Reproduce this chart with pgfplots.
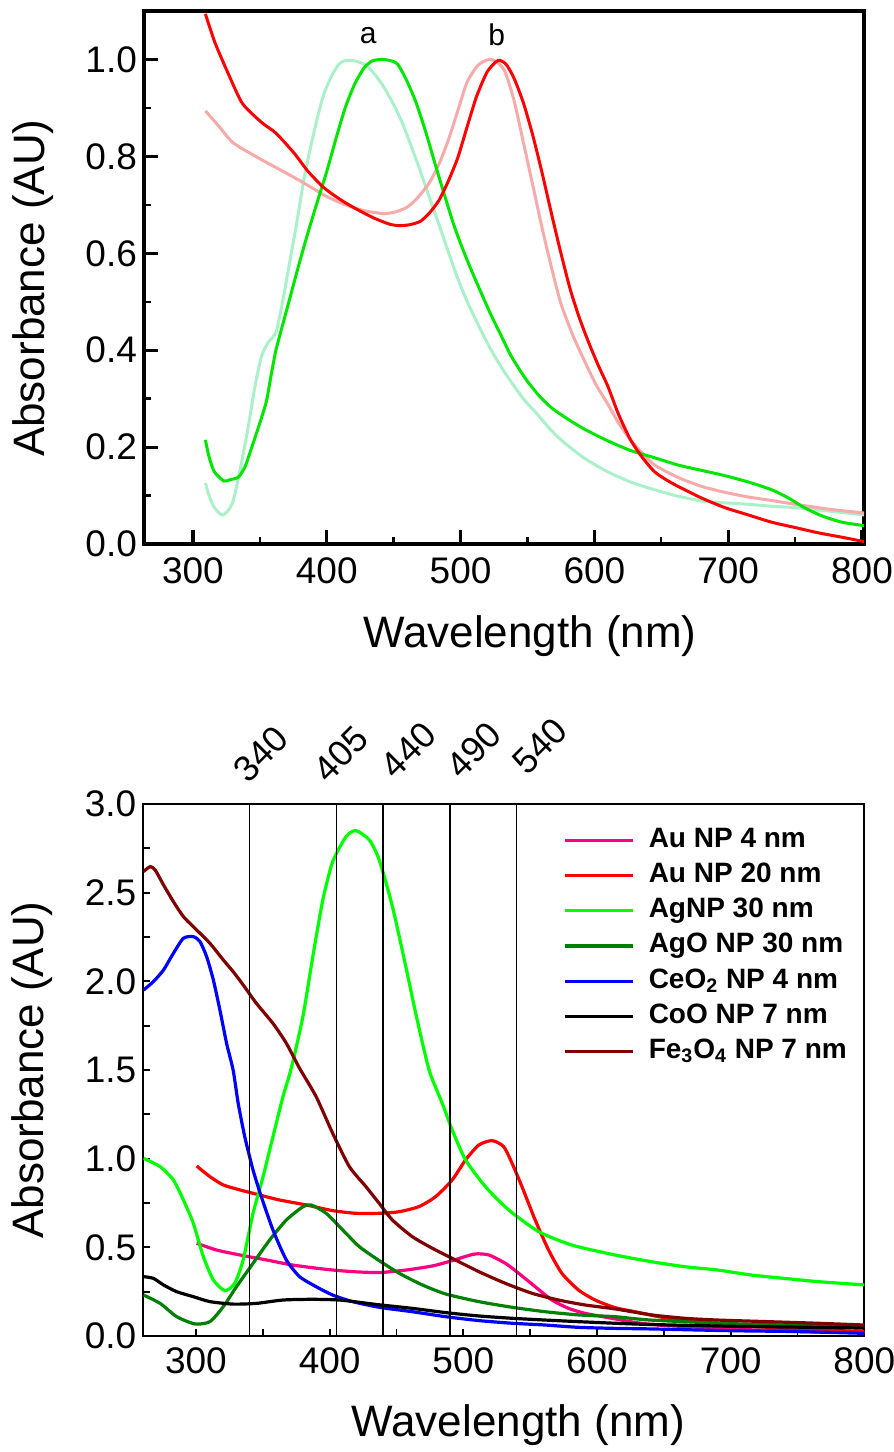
\documentclass[border=0pt]{standalone}
\usepackage{fontspec}
\setmainfont{Liberation Sans}
\usepackage{pgfplots}
\usepackage{pgfplotstable}
\pgfplotsset{compat=1.18}
\definecolor{cAuA}{RGB}{255,0,128}
\definecolor{cAuB}{RGB}{255,0,0}
\definecolor{cAg}{RGB}{0,255,0}
\definecolor{cAgO}{RGB}{0,128,0}
\definecolor{cCe}{RGB}{0,0,255}
\definecolor{cCo}{RGB}{0,0,0}
\definecolor{cFe}{RGB}{128,0,0}
\definecolor{tRed}{RGB}{255,0,0}
\definecolor{tPink}{RGB}{246,170,170}
\definecolor{tGreen}{RGB}{0,230,0}
\definecolor{tMint}{RGB}{170,240,200}

% ---------- top panel ----------
\pgfplotstableread{
x y
309.3 1.094
316.4 1.035
326.8 0.968
337.0 0.909
351.3 0.870
362.0 0.848
375.8 0.806
386.0 0.769
398.0 0.735
410.6 0.710
423.0 0.690
435.0 0.673
447.0 0.660
454.5 0.657
462.0 0.659
470.0 0.666
477.0 0.684
484.0 0.710
491.0 0.750
498.0 0.798
505.0 0.862
512.0 0.924
520.0 0.975
528.0 0.998
534.0 0.990
540.0 0.961
547.0 0.910
554.0 0.843
561.0 0.765
568.0 0.681
575.0 0.600
582.0 0.525
589.0 0.465
596.0 0.414
603.0 0.368
610.0 0.326
618.0 0.268
627.0 0.215
636.0 0.178
645.0 0.149
654.0 0.132
662.5 0.119
680.0 0.095
697.6 0.075
715.0 0.060
732.5 0.045
750.0 0.034
767.5 0.023
785.0 0.014
801.5 0.005
}\topRed
\pgfplotstableread{
x y
309.3 0.894
320 0.860
330 0.828
348 0.798
360 0.780
372 0.762
386 0.740
400 0.717
414 0.700
428 0.688
442 0.682
451 0.685
460 0.695
468 0.715
477 0.747
484 0.785
491 0.835
498 0.895
505 0.954
513 0.988
521 1.000
527 0.995
533 0.976
540 0.915
547 0.828
554 0.740
561 0.651
568 0.570
575 0.496
584 0.430
592.6 0.378
601 0.330
610 0.289
618 0.250
627 0.215
636 0.187
645 0.163
662 0.138
680 0.119
697 0.107
715 0.097
732 0.090
750 0.082
775 0.072
801.5 0.064
}\topPink
\pgfplotstableread{
x y
309.3 0.215
312 0.180
316 0.149
323 0.130
328 0.133
334 0.138
339 0.160
344 0.200
350 0.250
355 0.296
358.5 0.350
362 0.400
367 0.452
372 0.503
379 0.575
386 0.643
393 0.707
400 0.769
407 0.838
414 0.902
421 0.950
428 0.983
434 0.997
440.5 1.000
447 0.998
453 0.990
460 0.955
467 0.909
474 0.850
481 0.784
488 0.720
495 0.658
501.7 0.608
508.5 0.562
515.6 0.517
522.7 0.473
530 0.432
537 0.392
544 0.360
550.7 0.333
559 0.305
568 0.281
580 0.258
592.6 0.237
610 0.213
627 0.193
645 0.178
662.5 0.163
680 0.152
697.6 0.141
715 0.128
732.5 0.112
745 0.095
757 0.075
770 0.058
785 0.045
801.5 0.038
}\topGreen
\pgfplotstableread{
x y
309.3 0.126
312 0.100
316 0.075
321.6 0.060
326 0.068
330 0.089
335 0.150
341 0.237
346 0.320
351 0.385
356 0.415
362 0.437
367 0.500
372 0.577
378 0.670
383 0.754
388 0.820
393 0.880
398 0.930
404 0.968
409 0.990
414 0.998
421 0.997
428 0.990
435 0.972
442 0.946
449 0.912
456 0.872
463 0.822
470 0.769
477 0.713
484 0.658
491 0.602
498 0.547
505 0.500
512 0.459
519 0.420
526 0.385
533 0.354
540 0.326
548 0.296
557.6 0.267
566 0.240
575 0.215
592 0.178
610 0.149
627 0.128
645 0.112
662 0.099
680 0.089
697 0.085
715 0.082
732 0.078
750 0.075
775 0.068
801.5 0.060
}\topMint

% ---------- bottom panel ----------
\pgfplotstableread{
x y
300.5 0.523
315.4 0.485
332.8 0.457
352.7 0.429
372.5 0.400
397.4 0.376
417.2 0.363
437.1 0.358
457 0.372
476.8 0.395
491.7 0.425
500 0.445
509.1 0.463
519.1 0.457
531.5 0.410
541.4 0.354
553.8 0.278
566.3 0.203
578.7 0.156
591.1 0.128
611 0.100
630 0.075
650 0.060
700 0.040
750 0.025
800 0.020
}\AuFour
\pgfplotstableread{
x y
300.5 0.959
310.4 0.899
320.4 0.852
332.8 0.824
347.7 0.795
362.6 0.767
382.5 0.739
402.3 0.707
419.7 0.692
437.1 0.692
452 0.701
466.9 0.730
479.3 0.786
491.7 0.880
501.7 0.993
511.6 1.077
521.6 1.102
530.2 1.068
536.5 0.974
543.9 0.842
553.8 0.654
563.8 0.485
573.7 0.354
586.1 0.260
598.6 0.203
613.5 0.160
628.4 0.137
653.2 0.100
690.5 0.071
740.2 0.043
800 0.025
}\AuTwenty
\pgfplotstableread{
x y
260.8 1.002
273.2 0.955
283.1 0.880
290.6 0.767
298 0.636
305.5 0.448
313 0.316
321.6 0.256
329 0.297
335.3 0.429
342.7 0.692
350.2 0.899
357.6 1.124
365.1 1.350
371.3 1.510
380 1.801
387.4 2.139
394.9 2.459
402.3 2.675
412.3 2.816
419.7 2.850
429.7 2.797
437.1 2.685
447 2.421
457 2.083
464.4 1.820
474.4 1.500
484.3 1.312
491.7 1.162
501.7 0.993
516.6 0.842
534 0.711
556.3 0.589
581.2 0.513
613.5 0.457
640.8 0.419
665.6 0.391
690.5 0.372
715.3 0.344
740.2 0.325
765 0.307
800 0.288
}\AgNP
\pgfplotstableread{
x y
260.8 0.231
273.2 0.184
285.6 0.109
299.3 0.068
310.4 0.081
320.4 0.165
330.3 0.278
342.7 0.410
355.1 0.541
367.6 0.654
380 0.729
386.2 0.739
397.4 0.692
409.8 0.598
422.2 0.504
437.1 0.425
452 0.354
469.4 0.288
486.8 0.237
511.6 0.194
536.5 0.162
561.3 0.137
586.1 0.119
613.5 0.109
640 0.090
700 0.070
750 0.060
800 0.050
}\AgO
\pgfplotstableread{
x y
260.8 1.951
268.2 1.999
275.7 2.064
283.1 2.158
290.6 2.243
298 2.252
303 2.224
308 2.139
313 2.008
317.9 1.839
322.9 1.651
327.8 1.500
331.6 1.312
336.5 1.124
342.7 0.936
348.9 0.786
357.6 0.598
367.6 0.429
377.5 0.335
389.9 0.278
402.3 0.231
417.2 0.194
437.1 0.162
461.9 0.137
486.8 0.109
511.6 0.087
536.5 0.072
561.3 0.062
586.1 0.049
613.5 0.043
640 0.040
700 0.030
750 0.025
800 0.015
}\CeO
\pgfplotstableread{
x y
260.8 0.335
268.2 0.325
275.7 0.288
285.6 0.250
298 0.222
310.4 0.194
327.8 0.180
345.2 0.184
365.1 0.203
387.4 0.207
407.3 0.203
422.2 0.190
437.1 0.176
461.9 0.156
486.8 0.132
511.6 0.113
536.5 0.100
561.3 0.090
586.1 0.081
613.5 0.072
640 0.065
700 0.055
750 0.050
800 0.045
}\CoO
\pgfplotstableread{
x y
260.8 2.619
265.7 2.647
269.5 2.628
275.7 2.544
283.1 2.450
290.6 2.365
300.5 2.290
310.4 2.215
320.4 2.121
327.8 2.055
335.3 1.980
345.2 1.876
357.6 1.763
367.6 1.651
377.5 1.510
389.9 1.350
402.3 1.143
414.8 0.955
427.2 0.842
437.1 0.748
447 0.654
461.9 0.560
476.8 0.495
491.7 0.438
511.6 0.363
531.5 0.297
551.4 0.241
571.2 0.203
591.1 0.175
613.5 0.153
640.8 0.119
665.6 0.100
690.5 0.090
727.7 0.081
765 0.072
800 0.062
}\FeO

\pgfplotsset{
  common/.style={
    scale only axis,
    anchor=south west,
    tick align=inside,
    xtick pos=bottom, ytick pos=left,
    /pgf/number format/assume math mode=true,
    tick label style={font=\fontsize{18.5}{20}\selectfont, black},
    label style={font=\fontsize{22}{24}\selectfont},
    yticklabel style={/pgf/number format/fixed, /pgf/number format/fixed zerofill, /pgf/number format/precision=1},
    xticklabel style={/pgf/number format/fixed, /pgf/number format/precision=0},
    xlabel={Wavelength (nm)},
    ylabel={Absorbance (AU)},
    clip=true,
  },
}

\begin{document}
\begin{tikzpicture}
\path[use as bounding box] (0pt,0pt) rectangle (447pt,-726pt);

\begin{axis}[common,
  at={(72pt,-272pt)},
  width=360pt, height=266.5pt,
  xmin=263.4, xmax=801.5, ymin=0, ymax=1.1,
  axis line style={line width=1.6pt},
  xtick={300,400,500,600,700,800}, minor xtick={350,450,550,650,750},
  ytick={0,0.2,0.4,0.6,0.8,1.0}, minor ytick={0.1,0.3,0.5,0.7,0.9},
  major tick style={line width=1.6pt, black}, minor tick style={line width=1.2pt, black},
  major tick length=7pt, minor tick length=3.5pt,
  xticklabel style={/tikz/yshift=-3.5pt},
  ylabel style={at={(axis description cs:-0.154,0.48)}, anchor=center},
  xlabel style={at={(axis description cs:0.536,-0.172)}, anchor=center},
  every axis plot/.append style={line width=1.5pt, smooth, tension=0.4},
]
\addplot[tMint] table {\topMint};
\addplot[tPink] table {\topPink};
\addplot[tGreen] table {\topGreen};
\addplot[tRed] table {\topRed};
\node[font=\fontsize{15}{16}\selectfont] at (axis cs:431,1.05) {a};
\node[font=\fontsize{15}{16}\selectfont] at (axis cs:527,1.05) {b};
\end{axis}

\begin{axis}[common,
  at={(71.65pt,-668pt)},
  width=360.5pt, height=266pt,
  xmin=260.6, xmax=800, ymin=0, ymax=3,
  axis line style={line width=0.9pt},
  xtick={300,400,500,600,700,800}, minor xtick={350,450,550,650,750},
  ytick={0,0.5,1.0,1.5,2.0,2.5,3.0}, minor ytick={0.25,0.75,1.25,1.75,2.25,2.75},
  major tick style={line width=0.9pt, black}, minor tick style={line width=0.9pt, black},
  major tick length=3.5pt, minor tick length=3.5pt,
  xticklabel style={/tikz/yshift=-2.5pt},
  ylabel style={at={(axis description cs:-0.154,0.5)}, anchor=center},
  xlabel style={at={(axis description cs:0.52,-0.168)}, anchor=center},
  every axis plot/.append style={line width=1.6pt, smooth, tension=0.4},
  legend cell align=left,
  legend image code/.code={\draw[#1] (0pt,0pt) -- (34pt,0pt);},
  legend style={at={(rel axis cs:0.574,0.972)}, anchor=north west, draw=none, fill=none,
    font=\fontsize{14}{16}\bfseries\selectfont, row sep=0.6pt, column sep=5pt,
    nodes={text height=10pt, text depth=3pt, inner sep=2pt}},
]
\addplot[cAuA] table {\AuFour};
\addlegendentry{Au NP 4 nm}
\addplot[cAuB] table {\AuTwenty};
\addlegendentry{Au NP 20 nm}
\addplot[cAg] table {\AgNP};
\addlegendentry{AgNP 30 nm}
\addplot[cAgO] table {\AgO};
\addlegendentry{AgO NP 30 nm}
\addplot[cCe] table {\CeO};
\addlegendentry{CeO\textsubscript{2} NP 4 nm}
\addplot[cCo] table {\CoO};
\addlegendentry{CoO NP 7 nm}
\addplot[cFe] table {\FeO};
\addlegendentry{Fe\textsubscript{3}O\textsubscript{4} NP 7 nm}
\foreach \v in {340,405,440,490,540}{
  \edef\temp{\noexpand\draw[line width=0.7pt] (axis cs:\v,0) -- (axis cs:\v,3);}\temp
}
\end{axis}

\begin{axis}[
  scale only axis, anchor=south west,
  at={(71.65pt,-668pt)}, width=360.5pt, height=266pt,
  xmin=260.6, xmax=800, ymin=0, ymax=3,
  hide axis, clip=false,
]
\node[rotate=45, anchor=south west, inner sep=0pt, font=\fontsize{18}{19}\selectfont] at (axis cs:339.6,3.108) {340};
\node[rotate=45, anchor=south west, inner sep=0pt, font=\fontsize{18}{19}\selectfont] at (axis cs:399.3,3.108) {405};
\node[rotate=45, anchor=south west, inner sep=0pt, font=\fontsize{18}{19}\selectfont] at (axis cs:449.8,3.13) {440};
\node[rotate=45, anchor=south west, inner sep=0pt, font=\fontsize{18}{19}\selectfont] at (axis cs:498.7,3.13) {490};
\node[rotate=45, anchor=south west, inner sep=0pt, font=\fontsize{18}{19}\selectfont] at (axis cs:548,3.153) {540};
\end{axis}
\end{tikzpicture}
\end{document}
